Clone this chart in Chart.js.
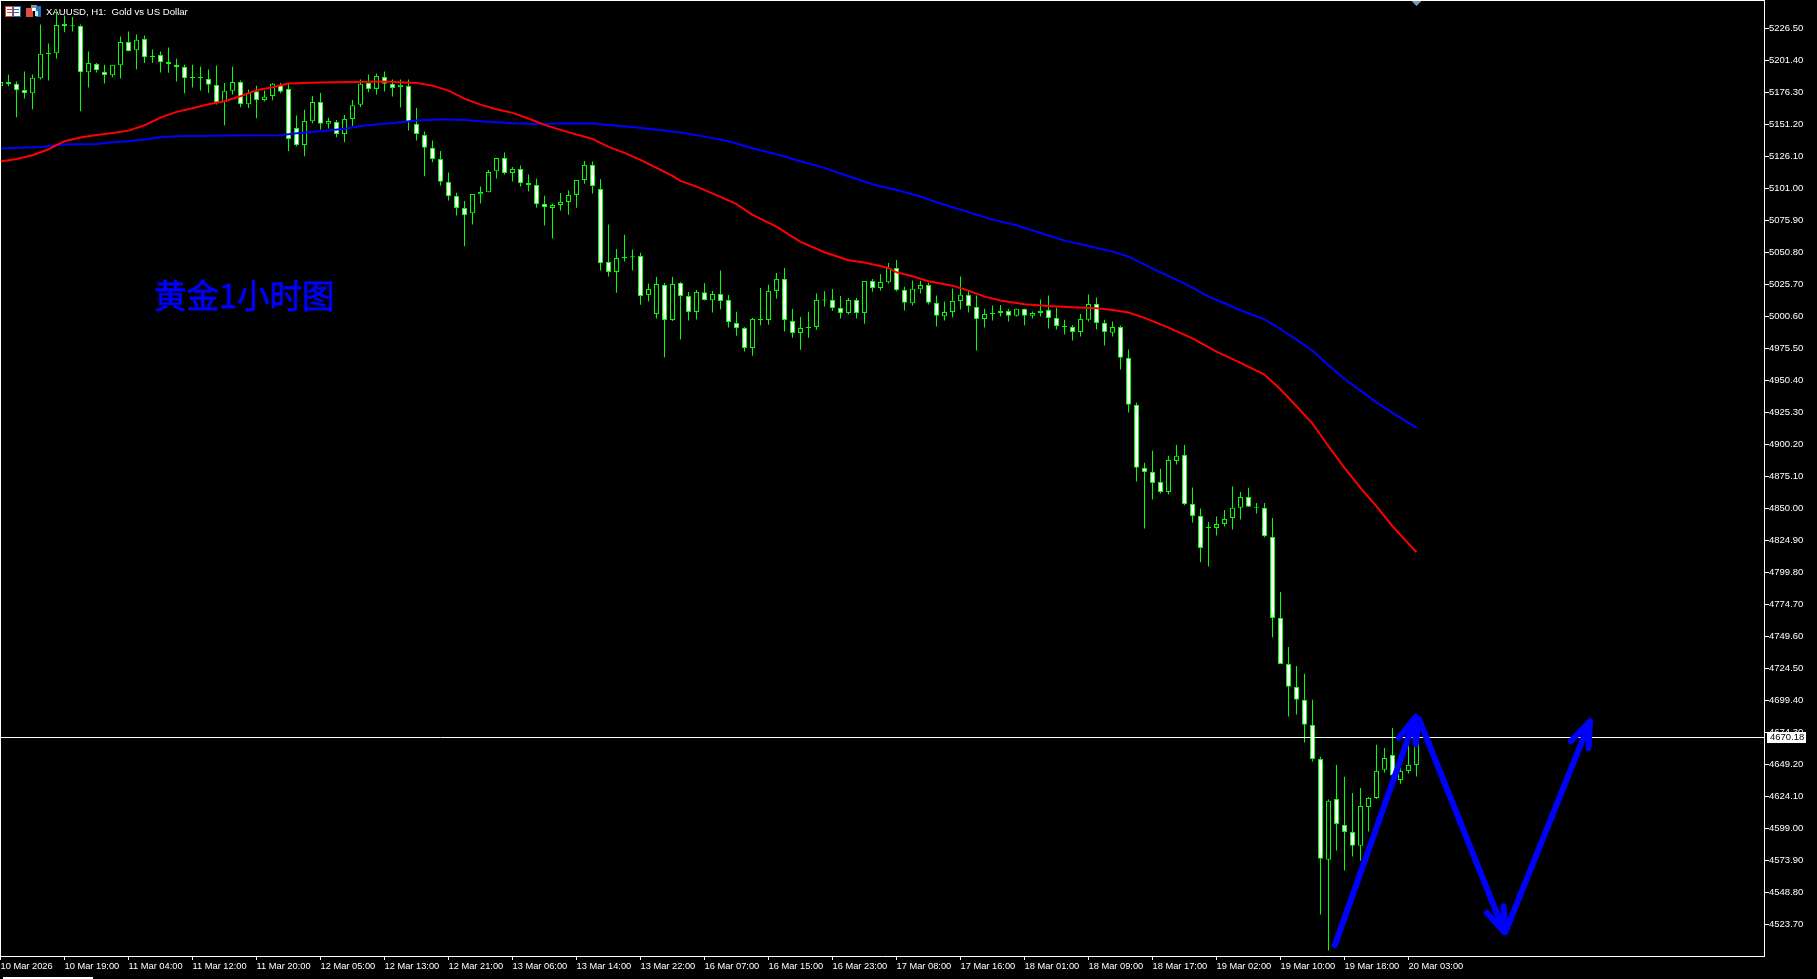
<!DOCTYPE html>
<html lang="zh">
<head>
    <meta charset="UTF-8">
    <title>XAUUSD H1</title>
    <script src="https://cdn.jsdelivr.net/npm/chart.js"></script>
    <style>
        html, body { margin: 0; padding: 0; background: #000; overflow: hidden; }
        canvas { display: block; }
    </style>
</head>
<body>
    <canvas id="chart" width="1817" height="979"></canvas>

    <script>
        const symbolTitle = 'XAUUSD, H1:  Gold vs US Dollar';
        const noteText = '黄金1小时图';
        const lastPrice = 4670.18;

        // one x tick every 8 bars
        const timeLabels = ['10 Mar 2026', '10 Mar 19:00', '11 Mar 04:00', '11 Mar 12:00', '11 Mar 20:00', '12 Mar 05:00',
            '12 Mar 13:00', '12 Mar 21:00', '13 Mar 06:00', '13 Mar 14:00', '13 Mar 22:00', '16 Mar 07:00', '16 Mar 15:00',
            '16 Mar 23:00', '17 Mar 08:00', '17 Mar 16:00', '18 Mar 01:00', '18 Mar 09:00', '18 Mar 17:00', '19 Mar 02:00',
            '19 Mar 10:00', '19 Mar 18:00', '20 Mar 03:00'];

        const priceTicks = [5226.5, 5201.4, 5176.3, 5151.2, 5126.1, 5101.0, 5075.9, 5050.8, 5025.7, 5000.6,
            4975.5, 4950.4, 4925.3, 4900.2, 4875.1, 4850.0, 4824.9, 4799.8, 4774.7, 4749.6,
            4724.5, 4699.4, 4674.3, 4649.2, 4624.1, 4599.0, 4573.9, 4548.8, 4523.7];

        const highs = [5185.5,5190.2,5184.7,5192.5,5190.2,5229.4,5214.5,5238.5,5236.4,5235.4,
            5229.4,5208.2,5199.3,5197.8,5197.8,5220.0,5223.9,5221.5,5220.8,5209.8,
            5208.2,5211.3,5202.7,5197.8,5197.8,5196.4,5194.1,5197.2,5183.6,5196.4,
            5185.5,5178.4,5181.3,5177.6,5183.6,5183.6,5183.6,5158.0,5162.5,5173.4,
            5175.8,5156.2,5154.6,5158.5,5170.3,5186.2,5190.2,5191.0,5192.5,5186.2,
            5186.2,5186.2,5164.0,5145.5,5138.4,5130.3,5113.3,5097.4,5091.0,5096.5,
            5102.3,5115.4,5124.8,5129.0,5117.7,5118.8,5111.7,5108.6,5095.2,5089.0,
            5097.3,5099.2,5107.5,5122.4,5121.9,5108.3,5072.5,5053.4,5064.6,5052.9,
            5050.5,5026.2,5031.4,5026.7,5031.4,5027.5,5019.7,5021.2,5026.7,5020.5,
            5036.4,5017.3,5004.2,4992.2,4999.3,5022.8,5025.4,5034.6,5038.5,5006.3,
            5000.1,5004.2,5018.4,5020.5,5022.0,5016.5,5015.0,5015.0,5028.3,5029.9,
            5033.8,5042.4,5044.8,5023.7,5028.6,5028.4,5026.8,5016.9,5012.2,5022.3,
            5031.8,5020.5,5016.9,5006.4,5009.0,5009.5,5006.4,5006.4,5006.4,5004.3,
            5013.7,5016.9,5007.2,4997.8,4993.8,5002.4,5017.6,5015.3,4997.8,4996.4,
            4993.3,4974.5,4932.7,4885.6,4895.3,4880.9,4891.1,4899.7,4899.7,4866.2,
            4849.8,4839.3,4843.5,4848.7,4867.0,4862.8,4866.0,4854.2,4854.2,4842.4,
            4784.4,4741.2,4726.3,4720.1,4699.7,4655.0,4621.5,4648.7,4639.3,4626.7,
            4630.6,4623.6,4664.4,4662.0,4677.7,4652.9,4665.9,4671.2];

        const lows = [5180.5,5181.0,5156.7,5171.3,5162.7,5186.2,5185.5,5202.7,5223.4,5223.9,
            5161.4,5180.0,5191.7,5183.1,5188.1,5187.0,5208.5,5194.1,5199.3,5199.3,
            5191.7,5191.5,5184.7,5175.3,5180.0,5177.6,5175.8,5166.6,5150.2,5174.5,
            5164.5,5164.0,5155.9,5169.0,5170.0,5175.5,5130.0,5134.0,5126.1,5152.0,
            5147.0,5147.8,5141.0,5137.1,5149.9,5164.8,5176.3,5174.5,5176.8,5172.9,
            5164.3,5146.2,5138.4,5110.4,5121.4,5103.1,5091.3,5079.6,5055.5,5072.5,
            5089.0,5097.8,5108.6,5111.7,5106.2,5102.3,5098.4,5085.8,5071.7,5061.5,
            5083.5,5080.3,5085.8,5104.6,5096.8,5036.4,5031.7,5019.1,5043.5,5036.4,
            5009.7,5012.1,4998.8,4968.2,4996.9,4982.3,4997.2,4998.0,5012.9,5003.5,
            5005.8,4991.7,4985.4,4972.9,4969.7,4993.3,4994.0,5014.4,4988.6,4983.8,
            4974.4,4983.8,4990.1,5008.2,5005.0,4998.8,5001.9,4998.8,4994.8,5019.9,
            5020.7,5026.2,5020.2,5005.1,5009.0,5018.4,5009.8,4992.5,4997.2,4999.6,
            5005.9,5003.5,4973.7,4991.7,4997.2,5000.4,4996.4,5000.4,4993.3,4998.8,
            5000.4,4991.0,4990.2,4986.3,4981.5,4984.7,4996.4,4990.2,4977.6,4984.7,
            4958.8,4925.1,4871.0,4834.1,4856.8,4861.5,4860.8,4884.3,4852.4,4838.8,
            4807.7,4804.3,4828.6,4835.6,4833.3,4841.1,4851.1,4845.8,4827.3,4748.6,
            4727.9,4686.6,4688.2,4666.2,4651.3,4531.3,4503.1,4581.5,4565.8,4576.8,
            4573.6,4596.4,4622.0,4642.7,4639.5,4634.0,4641.9,4639.5];

        const opens = [5181.0,5184.4,5182.9,5178.1,5175.5,5187.3,5207.2,5206.9,5229.9,5228.6,
            5228.3,5192.0,5198.5,5192.3,5189.6,5197.5,5215.8,5209.3,5218.1,5204.8,
            5205.6,5200.1,5197.8,5196.2,5188.3,5188.3,5186.8,5182.1,5168.7,5177.4,
            5184.4,5166.9,5177.1,5170.3,5173.4,5182.1,5178.9,5148.3,5135.0,5153.6,
            5168.7,5151.5,5153.0,5143.6,5155.4,5166.4,5183.6,5178.9,5188.3,5182.9,
            5180.5,5181.3,5151.5,5142.8,5132.7,5124.0,5106.0,5095.0,5085.6,5081.4,
            5096.3,5097.8,5114.3,5124.8,5113.0,5116.1,5105.2,5103.6,5088.7,5085.6,
            5087.9,5090.3,5095.8,5107.5,5119.3,5100.5,5043.2,5035.4,5047.1,5047.4,
            5047.9,5017.3,5002.4,5025.2,4997.7,5026.7,5016.5,5004.0,5019.4,5013.1,
            5018.1,5013.4,4995.4,4991.4,4975.7,4998.5,4997.7,5020.5,5029.9,4996.9,
            4987.5,4991.4,4992.2,5013.4,5013.4,5007.1,5003.2,5013.4,5003.2,5028.3,
            5022.8,5027.3,5038.5,5021.3,5010.8,5021.8,5025.2,5011.1,5000.6,5004.0,
            5012.6,5017.4,5007.9,4998.5,5002.4,5003.2,5004.8,5000.9,5006.4,5000.9,
            5003.2,5005.6,4999.3,4993.0,4992.2,4988.3,4997.8,5010.3,4995.4,4987.6,
            4992.2,4968.0,4931.1,4881.7,4878.5,4870.7,4862.8,4887.1,4891.9,4853.4,
            4844.0,4835.1,4834.6,4837.7,4842.4,4850.3,4858.9,4851.1,4850.3,4827.5,
            4764.0,4727.9,4709.9,4699.7,4680.1,4653.4,4574.2,4622.0,4601.6,4596.1,
            4585.2,4615.7,4622.8,4644.8,4656.5,4636.9,4644.0,4648.7];

        const closes = [5184.4,5182.6,5177.9,5175.5,5187.6,5206.4,5206.1,5229.1,5228.1,5228.1,
            5192.0,5199.3,5193.6,5189.6,5197.8,5215.8,5208.5,5217.4,5203.8,5204.0,
            5199.8,5198.3,5195.9,5187.3,5187.3,5187.3,5182.1,5168.5,5177.4,5184.4,
            5166.9,5175.8,5170.0,5172.7,5182.9,5176.6,5139.7,5134.7,5153.8,5168.7,
            5151.5,5153.8,5143.6,5155.4,5166.1,5182.9,5178.9,5189.1,5182.9,5179.7,
            5182.1,5152.8,5143.6,5132.7,5124.0,5106.0,5094.7,5085.6,5079.8,5096.5,
            5098.1,5113.8,5124.8,5113.0,5116.1,5105.2,5103.6,5088.4,5086.3,5087.9,
            5090.3,5095.8,5107.5,5119.3,5102.8,5042.2,5035.4,5046.3,5046.1,5046.9,
            5016.5,5022.0,5025.9,4997.7,5025.9,5016.5,5004.0,5019.7,5013.4,5018.1,
            5012.6,4996.1,4991.2,4975.7,4998.5,4997.7,5020.5,5029.9,4997.7,4987.5,
            4991.4,4992.2,5013.4,5012.9,5007.1,5003.2,5013.4,5003.2,5028.3,5022.8,
            5027.5,5038.5,5021.0,5011.1,5022.1,5025.2,5011.1,5000.9,5004.0,5012.6,
            5017.4,5008.7,4998.5,5002.4,5003.2,5004.8,5000.9,5006.4,5000.9,5003.2,
            5004.8,4999.3,4993.0,4992.2,4988.3,4998.5,5010.3,4995.4,4988.3,4992.2,
            4968.0,4931.1,4881.7,4878.5,4869.9,4862.8,4887.9,4891.1,4853.2,4844.0,
            4818.9,4834.6,4837.7,4841.6,4850.3,4858.9,4851.1,4850.3,4828.1,4764.0,
            4727.9,4709.9,4699.7,4680.1,4653.4,4575.0,4620.5,4602.4,4596.1,4585.2,
            4616.5,4622.8,4644.0,4654.2,4640.3,4644.0,4648.7,4670.18];

        // moving averages, read at these bar numbers
        const redBars = [0,2,4,6,8,10,12,14,16,18,20,22,24,26,28,30,32,34,36,40,44,48,52,54,56,58,60,62,64,66,68,70,72,74,76,78,80,82,84,85,87,90,92,94,97,100,103,106,108,111,112,114,116,119,121,123,125,128,131,134,137,139,141,143,146,149,152,155,158,160,162,164,166,168,170,172,174,176,177];
        const redValues = [5121.9,5124.0,5126.9,5131.6,5137.9,5140.8,5142.8,5144.4,5146.2,5150.4,5156.4,5160.9,5163.8,5166.9,5169.3,5173.2,5177.9,5180.2,5183.1,5183.9,5184.4,5184.7,5183.6,5181.5,5177.6,5171.3,5166.6,5163.0,5160.1,5155.7,5150.7,5146.8,5143.1,5139.7,5133.4,5128.7,5123.2,5117.0,5110.7,5106.8,5102.3,5094.2,5088.5,5080.1,5070.9,5058.9,5050.8,5044.5,5042.7,5038.5,5035.1,5032.0,5028.1,5024.6,5020.7,5016.0,5012.9,5010.0,5008.7,5007.6,5006.9,5005.5,5003.5,4999.3,4991.7,4983.3,4972.9,4964.0,4954.8,4943.1,4930.0,4916.4,4898.6,4881.6,4865.9,4851.5,4835.9,4822.3,4815.5];

        const blueBars = [0,5,8,12,14,16,18,20,22,29,35,37,40,43,45,48,50,52,55,56,58,60,64,68,70,74,76,79,82,85,88,91,94,97,100,103,106,109,112,115,117,124,127,130,133,136,139,141,144,147,149,151,153,155,158,160,162,164,166,168,170,172,174,177];
        const blueValues = [5132.1,5133.4,5135.3,5135.8,5137.1,5137.9,5139.2,5141.0,5141.8,5142.3,5142.6,5144.2,5145.7,5147.6,5149.9,5151.5,5152.8,5154.1,5154.9,5154.9,5154.6,5153.6,5152.0,5151.2,5152.0,5151.7,5150.7,5149.1,5146.8,5144.7,5141.5,5137.9,5132.4,5127.7,5122.2,5117.0,5110.4,5104.1,5099.7,5094.5,5090.0,5076.4,5072.0,5065.9,5059.9,5055.7,5051.3,5047.4,5038.0,5029.3,5023.1,5016.0,5010.8,5005.3,4998.2,4990.6,4982.3,4973.6,4962.1,4951.4,4942.3,4933.1,4924.8,4913.0];

        // hand drawn arrows on the chart, null breaks the path
        const arrowBars = [166.8,176.9,176.9, 174.8,176.9,176.9, 177.3,188.0,188.0, 185.8,188.0,187.9, 188.1,198.7,198.7, 196.3,198.7,198.5];
        const arrowPrices = [4507.2,4686.3,null, 4669.9,4686.3,4664.6, 4684.8,4517.4,null, 4532.6,4517.4,4537.8, 4517.4,4682.9,null, 4667.3,4682.9,4662.0];

        const GREEN = '#00ff00';
        const LABEL_FONT = '9.5px "Liberation Sans"';
        const barCount = highs.length;
        const bars = Array.from({ length: barCount }, (_, i) => i);

        const overlay = {
            id: 'overlay',
            afterDraw(chart) {
                const c = chart.ctx;
                const y = chart.scales.y;
                const x = chart.scales.x;
                c.save();

                // frame top and left, the axes draw the other two sides
                c.fillStyle = '#fff';
                c.fillRect(0, 0, 1765, 1);
                c.fillRect(0, 0, 1, 957);
                c.fillRect(3, 977, 90, 2);

                // icons
                c.fillStyle = '#d84030'; c.fillRect(5, 6, 8, 11);
                c.fillStyle = '#1c6fb0'; c.fillRect(13, 6, 8, 11);
                c.fillStyle = '#fff'; c.fillRect(6, 7, 6, 9); c.fillRect(14, 7, 6, 9);
                c.fillStyle = '#d84030'; c.fillRect(7, 9, 5, 1); c.fillRect(7, 12, 5, 1);
                c.fillStyle = '#1c6fb0'; c.fillRect(14, 9, 5, 1); c.fillRect(14, 12, 5, 1);
                c.fillStyle = '#e05040'; c.fillRect(26, 8, 7, 9);
                c.fillStyle = '#fff'; c.fillRect(32, 6, 4, 5);
                c.fillStyle = '#909090'; c.fillRect(31, 5, 6, 3);
                c.fillStyle = '#1c78c0'; c.fillRect(36, 6, 5, 11);
                c.fillStyle = '#cfe4f5'; c.fillRect(35, 11, 3, 5);

                c.fillStyle = '#fff';
                c.font = '9.6px "Liberation Sans"';
                c.textAlign = 'left';
                c.textBaseline = 'alphabetic';
                c.fillText(symbolTitle, 46, 15);

                c.fillStyle = '#0000ff';
                c.strokeStyle = '#0000ff';
                c.lineWidth = 0.8;
                c.font = '32.5px "Noto Sans CJK SC"';
                c.textBaseline = 'middle';
                c.fillText(noteText, 154, 296);
                c.strokeText(noteText, 154, 296);

                // shift marker on the last bar
                const mx = x.getPixelForValue(barCount - 1);
                c.fillStyle = '#7f9ab4';
                c.beginPath();
                c.moveTo(mx - 5, 1);
                c.lineTo(mx + 5, 1);
                c.lineTo(mx, 6);
                c.closePath();
                c.fill();

                // last price box
                const py = Math.floor(y.getPixelForValue(lastPrice));
                c.fillStyle = '#fff';
                c.fillRect(1767, py - 5, 39, 11);
                c.fillStyle = '#000';
                c.font = LABEL_FONT;
                c.textBaseline = 'middle';
                c.fillText(lastPrice.toFixed(2), 1770, py + 0.5);
                c.restore();
            }
        };

        new Chart(document.getElementById('chart'), {
            data: {
                datasets: [
                    {
                        type: 'line', order: 0,
                        data: arrowBars.map((b, i) => ({ x: b, y: arrowPrices[i] })),
                        borderColor: '#0000ff', borderWidth: 6, borderCapStyle: 'round', borderJoinStyle: 'round',
                        pointRadius: 0, tension: 0, spanGaps: false
                    },
                    {
                        type: 'line', order: 1,
                        data: [{ x: -1, y: lastPrice }, { x: 221, y: lastPrice }],
                        borderColor: '#fff', borderWidth: 1, pointRadius: 0
                    },
                    {
                        type: 'line', order: 2,
                        data: redBars.map((b, i) => ({ x: b, y: redValues[i] })),
                        borderColor: '#ff0000', borderWidth: 2, pointRadius: 0, tension: 0
                    },
                    {
                        type: 'line', order: 3,
                        data: blueBars.map((b, i) => ({ x: b, y: blueValues[i] })),
                        borderColor: '#0000ff', borderWidth: 2, pointRadius: 0, tension: 0
                    },
                    {
                        type: 'bar', order: 4, grouped: false,
                        data: bars.map(i => ({ x: i, y: [opens[i], closes[i]] })),
                        maxBarThickness: 5, minBarLength: 1, inflateAmount: 0,
                        borderWidth: 1, borderSkipped: false, borderColor: GREEN,
                        backgroundColor: bars.map(i => closes[i] < opens[i] ? '#fff' : '#000')
                    },
                    {
                        type: 'bar', order: 5, grouped: false,
                        data: bars.map(i => ({ x: i, y: [lows[i], highs[i]] })),
                        maxBarThickness: 1, inflateAmount: 0,
                        borderWidth: 0, backgroundColor: GREEN
                    }
                ]
            },
            options: {
                responsive: false,
                devicePixelRatio: 1,
                animation: false,
                events: [],
                layout: { padding: { top: 1, left: 0, right: 0, bottom: 0 } },
                plugins: { legend: { display: false }, tooltip: { enabled: false } },
                scales: {
                    x: {
                        type: 'linear',
                        offset: false,
                        min: -0.0625,
                        max: 220.4375,
                        afterFit(s) { s.height = 23; s.paddingLeft = 0; s.paddingRight = 0; },
                        afterBuildTicks(s) { s.ticks = timeLabels.map((t, i) => ({ value: i * 8 })); },
                        border: { color: '#fff', width: 1 },
                        grid: { offset: false, drawOnChartArea: false, tickLength: 4, tickColor: '#fff', tickWidth: 1 },
                        ticks: {
                            color: '#fff', font: { family: 'Liberation Sans', size: 9.3 },
                            align: 'start', padding: 1, autoSkip: false, maxRotation: 0,
                            callback: v => timeLabels[v / 8]
                        }
                    },
                    y: {
                        type: 'linear',
                        position: 'right',
                        min: 4498.8,
                        max: 5247.87,
                        afterFit(s) { s.width = 53; s.paddingTop = 0; s.paddingBottom = 0; },
                        afterBuildTicks(s) { s.ticks = priceTicks.map(v => ({ value: v })); },
                        border: { color: '#fff', width: 1 },
                        grid: { drawOnChartArea: false, tickLength: 5, tickColor: '#fff', tickWidth: 1 },
                        ticks: {
                            color: '#fff', font: { family: 'Liberation Sans', size: 9.5 },
                            padding: 0, autoSkip: false,
                            callback: v => v.toFixed(2)
                        }
                    }
                }
            },
            plugins: [overlay]
        });
    </script>
</body>
</html>
